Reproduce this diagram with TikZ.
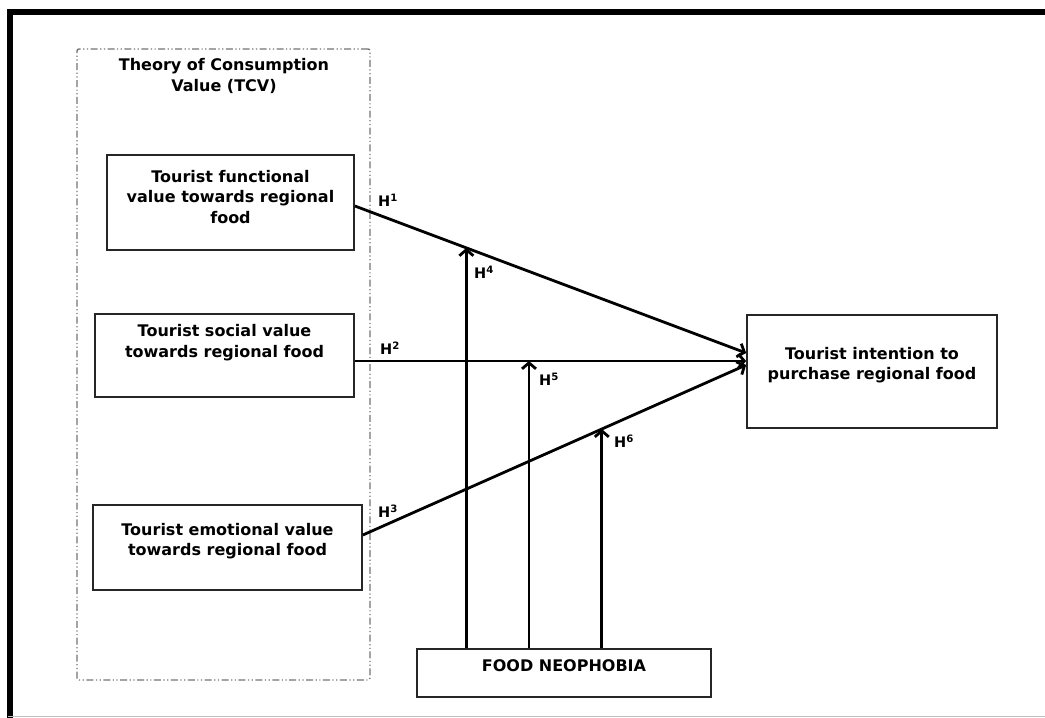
\documentclass[tikz,border=0pt]{standalone}
\usepackage{fontspec}
\setmainfont{DejaVu Sans}
\usetikzlibrary{arrows.meta,calc}
\begin{document}
\begin{tikzpicture}[x=1pt,y=-1pt,
  box/.style={draw=black!85,line width=1.7pt,inner sep=0pt},
  tcvbox/.style={draw=black!55,line width=1.4pt,inner sep=0pt,rounded corners=2pt,
    dash pattern=on 7pt off 2.5pt on 1.2pt off 2.5pt on 1.2pt off 2.5pt},
  lbl/.style={align=center,font=\fontsize{16}{20.5}\selectfont\bfseries,inner sep=0pt},
  hyp/.style={font=\fontsize{14.5}{16}\selectfont\bfseries,inner sep=0pt},
  arr/.style={line width=2.8pt,-{Straight Barb[length=6pt,width=14pt]}}]
\useasboundingbox (0,0) rectangle (1045,718);
% outer frame
\draw[line width=6pt] (10,718) -- (10,12) -- (1045,12);
\draw[black!25,line width=1.5pt] (8,716.5) -- (1045,716.5);
% TCV group
\node[tcvbox,minimum width=293pt,minimum height=631pt] (tcv) at (223.5,364.5) {};
\node[lbl] (tcvt) at (224,76) {Theory of Consumption\\Value (TCV)};
% boxes
\node[box,minimum width=247pt,minimum height=95pt] (f) at (230.5,202.5) {};
\node[lbl] (ft) at (230.5,197) {Tourist functional\\value towards regional\\food};
\node[box,minimum width=259pt,minimum height=83pt] (s) at (224.5,355.5) {};
\node[lbl] (st) at (224.5,342.5) {Tourist social value\\towards regional food};
\node[box,minimum width=269pt,minimum height=85pt] (e) at (227.5,547.5) {};
\node[lbl] (et) at (227.5,541) {Tourist emotional value\\towards regional food};
\node[box,minimum width=250pt,minimum height=113pt] (tgt) at (872,371.5) {};
\node[lbl] (tgtt) at (872,365) {Tourist intention to\\purchase regional food};
\node[box,minimum width=294pt,minimum height=48pt] (neo) at (564,673) {};
\node[lbl] (neot) at (564,666) {FOOD NEOPHOBIA};
% connector end points
\coordinate (s1) at ($(f.east)+(0,3.5)$);
\coordinate (e1) at ($(tgt.west)+(0,-18.5)$);
\coordinate (s2) at ($(s.east)+(0,5.5)$);
\coordinate (e2) at ($(tgt.west)+(0,-10.5)$);
\coordinate (s3) at ($(e.east)+(0,-12.5)$);
\coordinate (e3) at ($(tgt.west)+(0,-6.5)$);
\draw[arr] (s1) -- (e1);
\draw[arr] (s2) -- (e2);
\draw[arr] (s3) -- (e3);
\coordinate (m4) at ($(s1)!0.285!(e1)$);
\coordinate (m5) at ($(s2)!0.445!(e2)$);
\coordinate (m6) at ($(s3)!0.6234!(e3)$);
\draw[arr] (neo.north -| m4) -- (m4);
\draw[arr] (neo.north -| m5) -- (m5);
\draw[arr] (neo.north -| m6) -- (m6);
% hypothesis labels
\node[hyp] (h1) at (388,200) {H\textsuperscript{1}};
\node[hyp] (h2) at (390,348) {H\textsuperscript{2}};
\node[hyp] (h3) at (388,511) {H\textsuperscript{3}};
\node[hyp] (h4) at (484,272) {H\textsuperscript{4}};
\node[hyp] (h5) at (549,379) {H\textsuperscript{5}};
\node[hyp] (h6) at (624,441) {H\textsuperscript{6}};
\end{tikzpicture}
\end{document}
